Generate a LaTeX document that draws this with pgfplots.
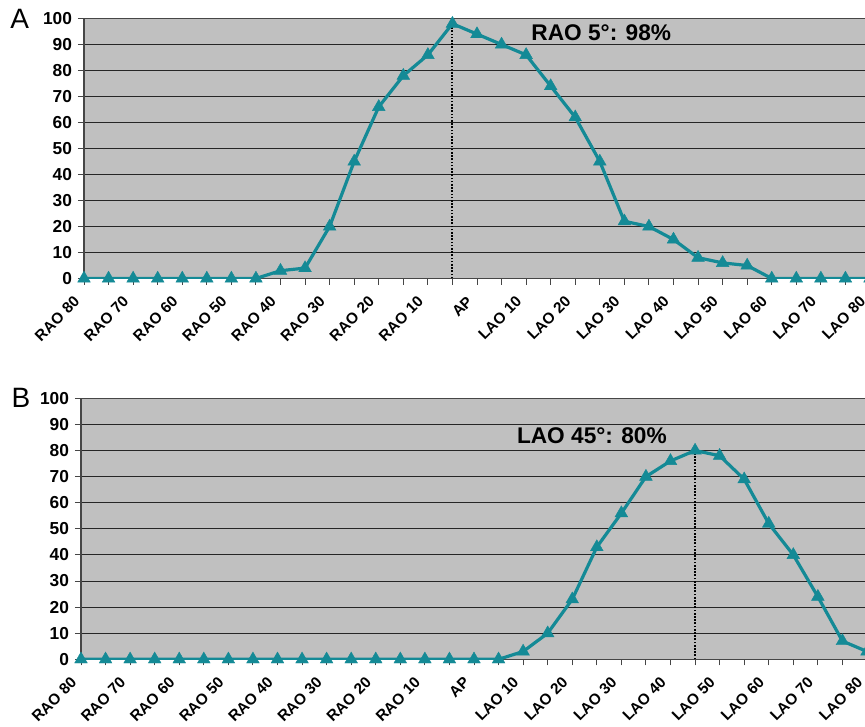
\documentclass[border=0pt]{standalone}
\usepackage{pgfplots}
\pgfplotsset{compat=1.18}
\usepackage{fontspec}
\setmainfont{Liberation Sans}
\definecolor{teal1}{RGB}{20,138,150}
\definecolor{bggray}{RGB}{192,192,192}
\definecolor{axgray}{RGB}{70,70,70}

\pgfplotstableread{
i val
0 0
1 0
2 0
3 0
4 0
5 0
6 0
7 0
8 3
9 4
10 20
11 45
12 66
13 78
14 86
15 98
16 94
17 90
18 86
19 74
20 62
21 45
22 22
23 20
24 15
25 8
26 6
27 5
28 0
29 0
30 0
31 0
32 0
}\dataA

\pgfplotstableread{
i val
0 0
1 0
2 0
3 0
4 0
5 0
6 0
7 0
8 0
9 0
10 0
11 0
12 0
13 0
14 0
15 0
16 0
17 0
18 3
19 10
20 23
21 43
22 56
23 70
24 76
25 80
26 78
27 69
28 52
29 40
30 24
31 7
32 3
}\dataB

\pgfplotsset{
  panel/.style={
    scale only axis,
    width=589.5pt,
    xmin=0, xmax=32, ymin=0, ymax=100,
    axis background/.style={fill=bggray},
    axis line style={draw=axgray, line width=0.8pt},
    ytick={0,10,...,100},
    ymajorgrids,
    major grid style={draw=black!85, line width=0.8pt},
    xtick={0,2,...,32},
    minor xtick={1,3,...,31},
    xticklabels={RAO 80,RAO 70,RAO 60,RAO 50,RAO 40,RAO 30,RAO 20,RAO 10,AP,LAO 10,LAO 20,LAO 30,LAO 40,LAO 50,LAO 60,LAO 70,LAO 80},
    tick align=outside,
    xtick pos=bottom, ytick pos=left,
    major tick length=4.5pt, minor tick length=4.5pt,
    tick style={draw=axgray, line width=0.7pt},
    /pgf/number format/assume math mode=true,
    yticklabel style={font=\bfseries\fontsize{13}{15}\selectfont, xshift=-1pt},
    xticklabel style={font=\bfseries\fontsize{11.5}{13}\selectfont, xshift=-5pt, yshift=-10.5pt, rotate=45, anchor=east, inner sep=0.5pt},
    clip=true,
  },
  dataline/.style={teal1, line width=2.4pt, mark=triangle*, mark size=5.5pt, mark options={fill=teal1, draw=teal1, line width=0.3pt}},
}

\begin{document}
\begin{tikzpicture}
\begin{axis}[panel, height=195pt, at={(63pt,-208.875pt)}, anchor=south west]
  \addplot[black, line width=1.5pt, dash pattern=on 1.3pt off 1.1pt] coordinates {(15,0) (15,98)};
  \addplot[dataline] table[x=i, y=val] {\dataA};
  \node[font=\bfseries\fontsize{17}{20}\selectfont] at (axis cs:21.06,94.6) {RAO 5°: 98\%};
\end{axis}
\begin{axis}[panel, height=195.75pt, at={(60.75pt,-494.5pt)}, anchor=south west]
  \addplot[black, line width=1.5pt, dash pattern=on 1.3pt off 1.1pt] coordinates {(25,0) (25,80)};
  \addplot[dataline] table[x=i, y=val] {\dataB};
  \node[font=\bfseries\fontsize{17}{20}\selectfont] at (axis cs:20.8,85.5) {LAO 45°: 80\%};
\end{axis}
\node[anchor=base west, inner sep=0pt, font=\fontsize{21}{24}\selectfont] at (7.5pt,-21.2pt) {A};
\node[anchor=base west, inner sep=0pt, font=\fontsize{21}{24}\selectfont] at (8.5pt,-305.4pt) {B};
\pgfresetboundingbox
\path[use as bounding box] (0,0) rectangle (648.75pt,-545.25pt);
\end{tikzpicture}
\end{document}
